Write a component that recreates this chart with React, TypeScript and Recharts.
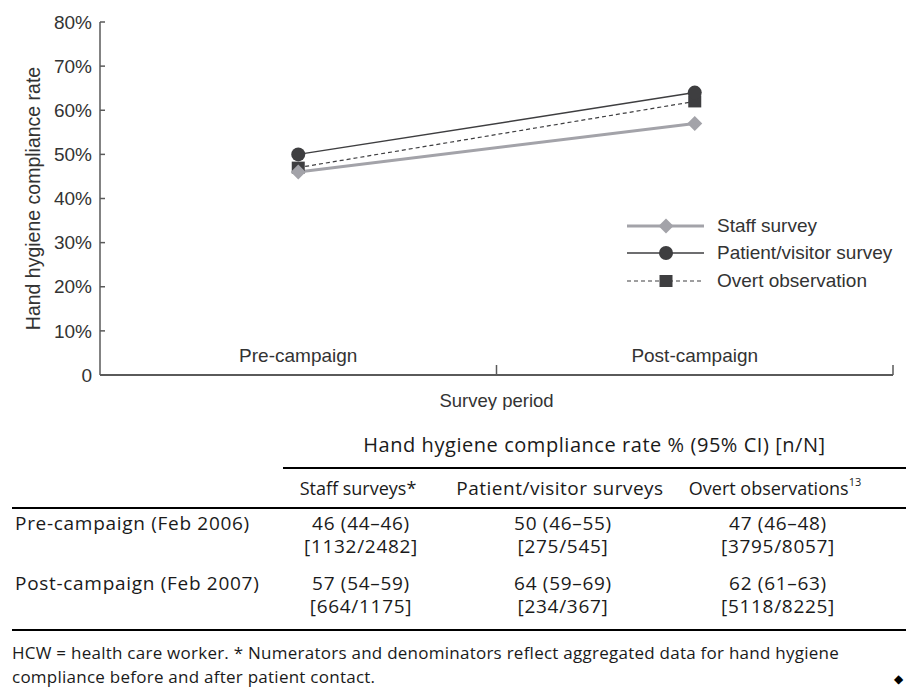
import React from 'react';
import { LineChart, Line, XAxis, YAxis } from 'recharts';

const periods = ['Pre-campaign', 'Post-campaign'];
const staffSurvey = [46, 57];
const patientSurvey = [50, 64];
const overtObservation = [47, 62];
const yTicks = [0, 10, 20, 30, 40, 50, 60, 70, 80];

const tableHeaders = ['Staff surveys*', 'Patient/visitor surveys', 'Overt observations'];
const tableRowLabels = ['Pre-campaign (Feb 2006)', 'Post-campaign (Feb 2007)'];
const tableRates = [
  ['46 (44–46)', '50 (46–55)', '47 (46–48)'],
  ['57 (54–59)', '64 (59–69)', '62 (61–63)'],
];
const tableCounts = [
  ['[1132/2482]', '[275/545]', '[3795/8057]'],
  ['[664/1175]', '[234/367]', '[5118/8225]'],
];

const data = periods.map((period, i) => ({
  period,
  staff: staffSurvey[i],
  patient: patientSurvey[i],
  overt: overtObservation[i],
}));

const LIGHT = '#a3a3a9';
const DARK = '#3e3e40';
const TEXT = '#333';
const AXIS = '#5a5a5a';
const chartFont = '"Liberation Sans", Arial, sans-serif';
const tableFont = '"Open Sans", Lato, sans-serif';
const FS = 19;

function marker(kind: string, cx: number, cy: number, key?: any) {
  if (kind === 'diamond') {
    return <polygon key={key} points={`${cx},${cy - 7.5} ${cx + 7.5},${cy} ${cx},${cy + 7.5} ${cx - 7.5},${cy}`} fill={LIGHT} />;
  }
  if (kind === 'circle') {
    return <circle key={key} cx={cx} cy={cy} r={7} fill={DARK} />;
  }
  return <rect key={key} x={cx - 6.5} y={cy - 6} width={13} height={12} fill={DARK} />;
}

const series = [
  { key: 'staff', name: 'Staff survey', color: LIGHT, width: 3, dash: undefined, shape: 'diamond' },
  { key: 'patient', name: 'Patient/visitor survey', color: DARK, width: 1.5, dash: undefined, shape: 'circle' },
  { key: 'overt', name: 'Overt observation', color: DARK, width: 1.2, dash: '4 3', shape: 'square' },
];

const PeriodTick = (props: any) => {
  const { x, y, payload } = props;
  const edge = x + (payload.offset ?? 0);
  return (
    <g>
      <text x={x} y={y - 18} textAnchor="middle" dominantBaseline="middle" fill={TEXT} fontSize={FS} fontFamily={chartFont}>
        {payload.value}
      </text>
      <line x1={edge} x2={edge} y1={y} y2={y - 10} stroke={AXIS} strokeWidth={1.5} />
    </g>
  );
};

const cell = (w: number, align: 'left' | 'center' = 'center'): React.CSSProperties => ({
  width: w,
  textAlign: align,
  flex: 'none',
  whiteSpace: 'nowrap',
});
const colW = [271, 150, 254, 176];

export default function App() {
  return (
    <div style={{ position: 'absolute', left: 0, top: 0, width: 906, height: 697, background: '#fff', overflow: 'hidden' }}>
      <LineChart width={906} height={410} data={data} margin={{ top: 22, right: 13, bottom: 0, left: 0 }}>
        <XAxis
          dataKey="period"
          scale="band"
          height={35}
          tickLine={false}
          tickSize={0}
          tickMargin={0}
          tick={<PeriodTick />}
          axisLine={{ stroke: AXIS, strokeWidth: 2 }}
          label={{ value: 'Survey period', position: 'insideBottom', offset: 3, fill: TEXT, fontSize: 18.5, fontFamily: chartFont }}
        />
        <YAxis
          width={100}
          domain={[0, 80]}
          ticks={yTicks}
          interval={0}
          tickSize={-5}
          tickMargin={13}
          tickFormatter={(v: number) => (v === 0 ? '0' : `${v}%`)}
          tick={{ fill: TEXT, fontSize: FS, fontFamily: chartFont }}
          tickLine={{ stroke: AXIS, strokeWidth: 1.5 }}
          axisLine={{ stroke: AXIS, strokeWidth: 1.5 }}
          label={({ viewBox }: any) => (
            <text
              transform={`translate(${viewBox.x + 35}, ${viewBox.y + viewBox.height / 2}) rotate(-90)`}
              textAnchor="middle"
              dominantBaseline="middle"
              fill={TEXT}
              fontSize={19.5}
              fontFamily={chartFont}
            >
              Hand hygiene compliance rate
            </text>
          )}
        />
        {[series[2], series[0], series[1]].map((s) => (
          <Line
            key={s.key}
            dataKey={s.key}
            name={s.name}
            stroke={s.color}
            strokeWidth={s.width}
            strokeDasharray={s.dash}
            isAnimationActive={false}
            dot={(p: any) => marker(s.shape, p.cx, p.cy, `${s.key}-${p.index}`)}
            activeDot={false}
          />
        ))}
      </LineChart>

      <div style={{ position: 'absolute', left: 627, top: 212, fontFamily: chartFont, fontSize: FS, color: TEXT }}>
        {series.map((s) => (
          <div key={s.key} style={{ display: 'flex', alignItems: 'center', height: 27.5 }}>
            <svg width={90} height={20} style={{ display: 'block' }}>
              <line x1={0} x2={77} y1={10} y2={10} stroke={s.color} strokeWidth={s.width} strokeDasharray={s.dash} />
              {marker(s.shape, 39, 10)}
            </svg>
            <span>{s.name}</span>
          </div>
        ))}
      </div>

      <div style={{ position: 'absolute', left: 0, top: 420, width: 906, fontFamily: tableFont, fontSize: 19, color: '#1a1a1a' }}>
        <div style={{ position: 'absolute', left: 283, top: 13, width: 623, textAlign: 'center', lineHeight: '24px', fontSize: 20, letterSpacing: 0.55 }}>
          Hand hygiene compliance rate % (95% CI) [n/N]
        </div>
        <div style={{ position: 'absolute', left: 283, top: 47, width: 623, height: 2, background: '#000' }} />
        <div style={{ position: 'absolute', left: 12, top: 56, display: 'flex', lineHeight: '24px' }}>
          <div style={cell(colW[0], 'left')} />
          {tableHeaders.map((h, i) => (
            <div key={h} style={{ ...cell(colW[i + 1]), fontSize: i === 0 ? 18 : i === 1 ? 19 : 18, letterSpacing: i === 1 ? 0.5 : 0 }}>
              {h}
              {i === 2 ? <sup style={{ fontSize: 11, verticalAlign: 'top', lineHeight: '12px' }}>13</sup> : null}
            </div>
          ))}
        </div>
        <div style={{ position: 'absolute', left: 12, top: 87, width: 894, height: 2, background: '#000' }} />
        {tableRowLabels.map((label, r) => (
          <div key={label} style={{ position: 'absolute', left: 12, top: 92 + r * 60, display: 'flex', lineHeight: '22.5px', letterSpacing: 0.7 }}>
            <div style={{ ...cell(colW[0], 'left'), paddingLeft: 3 }}>{label}</div>
            {tableRates[r].map((rate, c) => (
              <div key={c} style={cell(colW[c + 1])}>
                <div>{rate}</div>
                <div>{tableCounts[r][c]}</div>
              </div>
            ))}
          </div>
        ))}
        <div style={{ position: 'absolute', left: 12, top: 209, width: 894, height: 2, background: '#000' }} />
        <div style={{ position: 'absolute', left: 12, top: 221, width: 894, lineHeight: '24px', fontSize: 17, letterSpacing: 0.25, whiteSpace: 'nowrap' }}>
          HCW = health care worker. * Numerators and denominators reflect aggregated data for hand hygiene
          <br />
          compliance before and after patient contact.
        </div>
        <div style={{ position: 'absolute', left: 894, top: 250, fontSize: 12, color: '#000' }}>◆</div>
      </div>
    </div>
  );
}
